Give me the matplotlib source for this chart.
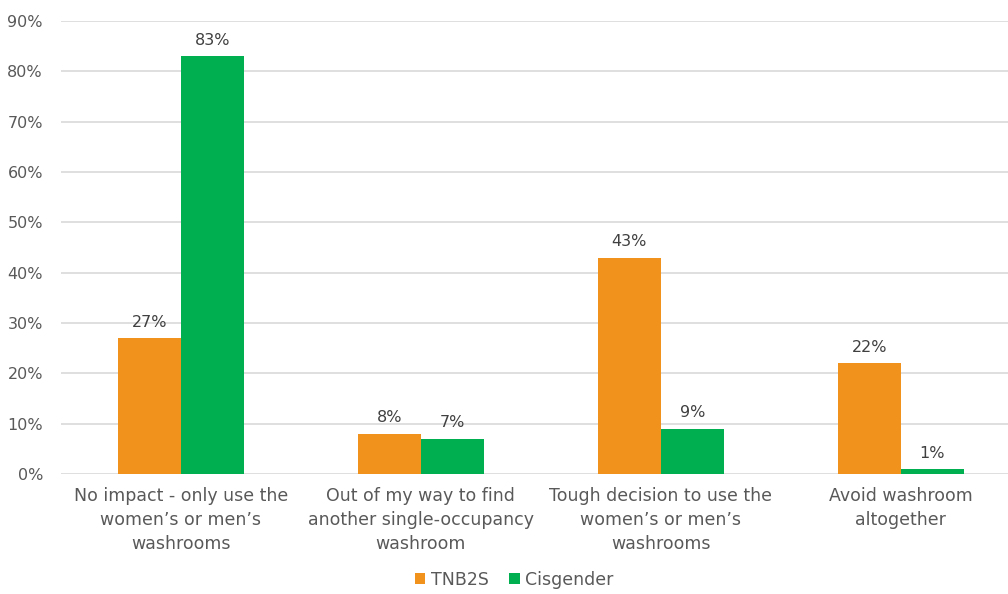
import matplotlib
matplotlib.use("Agg")
import matplotlib.pyplot as plt
import numpy as np
from matplotlib.ticker import FuncFormatter

categories = ["No impact - only use the\nwomen\u2019s or men\u2019s\nwashrooms",
              "Out of my way to find\nanother single-occupancy\nwashroom",
              "Tough decision to use the\nwomen\u2019s or men\u2019s\nwashrooms",
              "Avoid washroom\naltogether"]
tnb2s = [27, 8, 43, 22]
cisgender = [83, 7, 9, 1]
series_names = ["TNB2S", "Cisgender"]
colors = ["#F0921B", "#00B050"]

plt.rcParams['font.family'] = ['DejaVu Sans']
fig = plt.figure(figsize=(10.08, 5.94), dpi=100)
ax = fig.add_axes([0.0605, 0.202, 0.952, 0.7625])

x = np.arange(len(categories))
w = 0.2625
b1 = ax.bar(x - w/2, tnb2s, w, color=colors[0], label=series_names[0], zorder=3)
b2 = ax.bar(x + w/2, cisgender, w, color=colors[1], label=series_names[1], zorder=3)

for bars, vals in ((b1, tnb2s), (b2, cisgender)):
    for r, v in zip(bars, vals):
        ax.annotate(f"{v}%", (r.get_x() + r.get_width()/2, v), xytext=(0, 6),
                    textcoords="offset points", ha="center", va="bottom",
                    fontsize=11.5, color="#404040")

ax.set_xlim(-0.5, len(categories) - 0.5)
ax.set_ylim(0, 90)
ax.set_yticks(range(0, 91, 10))
ax.yaxis.set_major_formatter(FuncFormatter(lambda v, p: f"{int(v)}%"))
ax.grid(axis="y", color="#D9D9D9", linewidth=1.2, zorder=0)
for s in ax.spines.values():
    s.set_visible(False)
ax.tick_params(axis="both", length=0, labelsize=11.5, colors="#595959")
ax.tick_params(axis="y", pad=13)
ax.set_xticks(x)
ax.set_xticklabels(categories, fontsize=12.5, color="#595959", linespacing=1.45)
ax.tick_params(axis="x", pad=9)

leg = fig.legend(handles=[b1, b2], labels=series_names, loc="center",
                 bbox_to_anchor=(0.51, 0.024), ncol=2, frameon=False,
                 fontsize=12.5, handlelength=0.6, handleheight=0.6,
                 handletextpad=0.3, columnspacing=1.2)
for t in leg.get_texts():
    t.set_color("#595959")

fig.savefig("out.png", dpi=100, facecolor="white")
